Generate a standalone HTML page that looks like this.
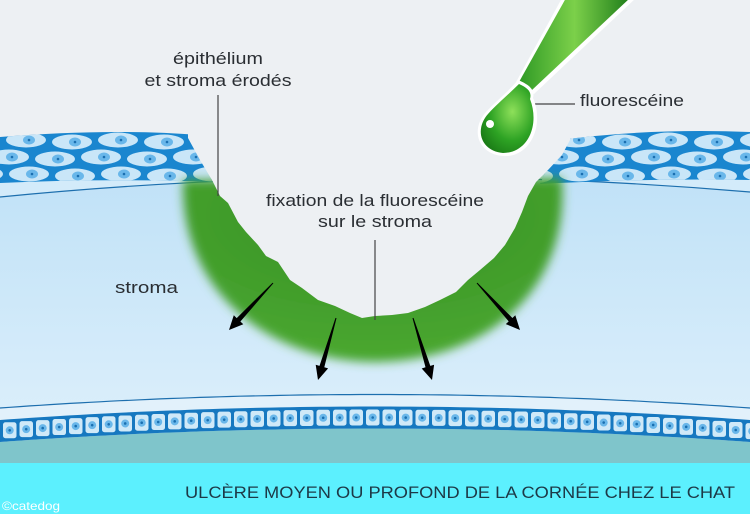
<!DOCTYPE html>
<html><head><meta charset="utf-8"><style>
html,body{margin:0;padding:0;background:#edf0f3}
svg{display:block}
text{font-family:"Liberation Sans",sans-serif;fill:#2a2e33}
</style></head><body>
<svg id="s" width="750" height="514" viewBox="0 0 750 514" xmlns="http://www.w3.org/2000/svg">
<defs>
<linearGradient id="str" x1="0" y1="0" x2="0" y2="1">
<stop offset="0" stop-color="#bfe1f7"/><stop offset="1" stop-color="#dcEFFB"/></linearGradient>
<radialGradient id="gr" cx="0.5" cy="0.2" r="0.8">
<stop offset="0.4" stop-color="#3f9a2a"/><stop offset="1" stop-color="#4aa830"/></radialGradient>
<filter id="bl" x="-20%" y="-20%" width="140%" height="140%"><feGaussianBlur stdDeviation="5"/></filter>
<linearGradient id="tube" x1="0" y1="0" x2="1" y2="0">
<stop offset="0" stop-color="#2f9a25"/><stop offset="0.5" stop-color="#7cd04a"/><stop offset="1" stop-color="#1f7d1a"/></linearGradient>
<radialGradient id="drop" cx="0.6" cy="0.4" r="0.7">
<stop offset="0" stop-color="#8ee05a"/><stop offset="0.6" stop-color="#2ea324"/><stop offset="1" stop-color="#1a7a16"/></radialGradient>
<clipPath id="epiL"><path d="M0,137 Q110,128 200,135 L212,182 Q100,178 0,183 Z"/></clipPath>
<clipPath id="epiR"><path d="M560,140 Q650,128 750,132 L750,180 Q650,178 540,184 Z"/></clipPath>
</defs>
<!-- stroma -->
<path d="M0,183 Q375,150 750,180 L750,430 L0,430 Z" fill="url(#str)"/>
<path d="M0,183 Q375,150 750,180 L750,192 Q375,160 0,197 Z" fill="#d3ebfa"/>
<path d="M0,197 Q375,160 750,192" fill="none" stroke="#1d6fae" stroke-width="1.2"/>
<!-- epithelium -->
<g clip-path="url(#epiL)"><rect x="0" y="120" width="220" height="70" fill="#1a86cf"/><g id="cl"></g></g>
<g clip-path="url(#epiR)"><rect x="530" y="120" width="220" height="70" fill="#1a86cf"/><g id="cr"></g></g>
<!-- endothelium -->
<path id="endoWhite" fill="#e2f1fb"/>
<path id="endoLine" fill="none" stroke="#1d6fae" stroke-width="1.2"/>
<path id="teal" fill="#7fc5cb"/>
<path id="endoBand" fill="#1678c0"/>
<g id="endoCells"></g>
<rect x="0" y="463" width="750" height="51" fill="#5cf0fe"/>
<!-- ulcer -->
<path d="M183,180 C180,300 280,362 375,362 C475,362 570,300 562,178 Z" fill="url(#gr)" filter="url(#bl)"/>
<path d="M188,0 L188,138 L200,160 L212,180 L220,196 L228,203 L238,222 L246,232 L258,245 L266,256 L278,262 L290,280 L302,288 L318,300 L335,306 L350,313 L362,318 L375,316 L392,315 L408,313 L425,307 L440,300 L456,292 L468,280 L480,270 L494,258 L505,245 L515,228 L522,212 L528,196 L536,182 L548,170 L562,155 L570,140 L570,0 Z" fill="#edf0f3"/>
<!-- arrows -->
<g id="arrows" fill="#000"></g>
<!-- leader lines -->
<g stroke="#444" stroke-width="1.2">
<line x1="218" y1="95" x2="218" y2="196"/>
<line x1="375" y1="240" x2="375" y2="320"/>
<line x1="532" y1="104" x2="575" y2="104"/>
</g>
<!-- dropper -->
<path d="M562,-2 L636,-2 L534,94 L515,84 Z" fill="#fff"/>
<path d="M566,-2 L630,-2 L532,90 L519,82 Z" fill="url(#tube)"/>
<path d="M518,80 C530,85 535,90 533,98 C545,125 530,158 503,156 C478,154 470,130 486,112 C497,100 508,92 518,80 Z" fill="#fff"/>
<path d="M519,84 C528,88 532,92 530,99 C540,125 528,153 503,153 C481,151 474,130 488,114 C499,102 509,94 519,84 Z" fill="url(#drop)"/>
<circle cx="490" cy="124" r="4" fill="#fff"/>
<!-- labels -->
<text x="218" y="64" font-size="17" text-anchor="middle" textLength="90" lengthAdjust="spacingAndGlyphs">épithélium</text>
<text x="218" y="86" font-size="17" text-anchor="middle" textLength="147" lengthAdjust="spacingAndGlyphs">et stroma érodés</text>
<text x="375" y="206" font-size="17" text-anchor="middle" textLength="218" lengthAdjust="spacingAndGlyphs">fixation de la fluorescéine</text>
<text x="375" y="227" font-size="17" text-anchor="middle" textLength="114" lengthAdjust="spacingAndGlyphs">sur le stroma</text>
<text x="115" y="293" font-size="17" textLength="63" lengthAdjust="spacingAndGlyphs">stroma</text>
<text x="580" y="106" font-size="17" textLength="104" lengthAdjust="spacingAndGlyphs">fluorescéine</text>
<text x="185" y="498" font-size="17" style="fill:#1d3947" textLength="550" lengthAdjust="spacingAndGlyphs">ULCÈRE MOYEN OU PROFOND DE LA CORNÉE CHEZ LE CHAT</text>
<text x="2" y="510" font-size="12" style="fill:#fff" textLength="58" lengthAdjust="spacingAndGlyphs">©catedog</text>
</svg>
<script>
(function(){
var NS="http://www.w3.org/2000/svg";
function el(t,a,p){var e=document.createElementNS(NS,t);for(var k in a)e.setAttribute(k,a[k]);p.appendChild(e);return e;}
function cells(g,x0,x1){
 var rows=[140,157,174];
 for(var r=0;r<3;r++){for(var x=x0+(r%2)*22;x<x1;x+=46){
  var cx=x+(r*7%11), cy=rows[r]+((x/46|0)%2)*2;
  el('ellipse',{cx:cx,cy:cy,rx:20,ry:7.5,fill:'#c9e6f8'},g);
  el('ellipse',{cx:cx+3,cy:cy,rx:6,ry:4.5,fill:'#69b7ea'},g);
  el('circle',{cx:cx+3,cy:cy,r:1.3,fill:'#1a6fb0'},g);
 }}
}
cells(document.getElementById('cl'),-20,230);
cells(document.getElementById('cr'),530,770);
function yc(x){return 420-13.5*(1-Math.pow((x-375)/375,2));}
var tp=[],bt=[],ln=[];
for(var x=0;x<=750;x+=10){tp.push(x+','+yc(x).toFixed(1));bt.push(x+','+(yc(x)+22).toFixed(1));ln.push(x+','+(yc(x)-12).toFixed(1));}
document.getElementById('endoLine').setAttribute('d','M'+ln.join(' L'));
document.getElementById('endoWhite').setAttribute('d','M'+ln.join(' L')+' L750,440 L0,440 Z');
document.getElementById('endoBand').setAttribute('d','M'+tp.join(' L')+' L'+bt.slice().reverse().join(' L')+' Z');
document.getElementById('teal').setAttribute('d','M'+bt.join(' L')+' L750,463 L0,463 Z');
var g=document.getElementById('endoCells');
for(var x=3;x<750;x+=16.5){var y=yc(x+7);
 el('rect',{x:x,y:y+3,width:13.5,height:16,rx:2.5,fill:'#cfe9f8'},g);
 el('circle',{cx:x+6.7,cy:y+11,r:4,fill:'#69b7ea'},g);
 el('circle',{cx:x+6.7,cy:y+11,r:1.3,fill:'#1a6fb0'},g);}
var ag=document.getElementById('arrows');
function arrow(x1,y1,x2,y2){
 var dx=x2-x1,dy=y2-y1,L=Math.sqrt(dx*dx+dy*dy),ux=dx/L,uy=dy/L,px=-uy,py=ux;
 var hb=14; var bx=x2-ux*hb,by=y2-uy*hb;
 var pts=[[x1+px*0.5,y1+py*0.5],[bx+px*2.5,by+py*2.5],[bx+px*6.5,by+py*6.5],[x2,y2],[bx-px*6.5,by-py*6.5],[bx-px*2.5,by-py*2.5],[x1-px*0.5,y1-py*0.5]];
 el('polygon',{points:pts.map(function(p){return p[0].toFixed(1)+','+p[1].toFixed(1);}).join(' ')},ag);
}
arrow(273,283,229,330);
arrow(336,318,318,380);
arrow(413,318,432,380);
arrow(477,283,520,330);
})();
</script>
</body></html>
